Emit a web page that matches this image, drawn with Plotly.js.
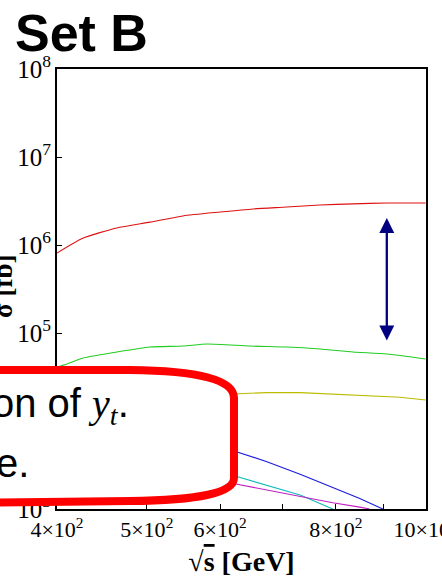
<!DOCTYPE html>
<html>
<head>
<meta charset="utf-8">
<script src="https://cdn.plot.ly/plotly-3.0.1.min.js"></script>
<style>
html,body{margin:0;padding:0;background:#fff;}
#chart{width:442px;height:581px;}
</style>
</head>
<body>
<div id="chart"></div>
<script>
// ---- data ----
const redX = [400, 427, 464, 504, 547, 600, 651, 708, 769, 835, 908, 1000];
const redY = [8.1e5, 1.2e6, 1.56e6, 1.82e6, 2.14e6, 2.37e6, 2.57e6, 2.70e6, 2.85e6, 2.93e6, 3.0e6, 3.0e6];
const greenX = [400, 410, 427, 464, 504, 547, 581, 646, 708, 769, 835, 908, 1000];
const greenY = [4.1e4, 4.44e4, 5.2e4, 6.08e4, 6.93e4, 7.11e4, 7.5e4, 7.11e4, 6.93e4, 6.58e4, 6.08e4, 5.77e4, 5.07e4];
const yellowX = [620, 674, 732, 794, 864, 938, 1000];
const yellowY = [2.03e4, 2.10e4, 2.10e4, 2.01e4, 1.94e4, 1.86e4, 1.73e4];
const blueX = [620, 674, 732, 794, 849, 899];
const blueY = [4.6e3, 3.45e3, 2.48e3, 1.77e3, 1.32e3, 1.0e3];
const cyanX = [620, 674, 732, 794];
const cyanY = [2.4e3, 1.87e3, 1.44e3, 1.0e3];
const magentaX = [620, 674, 732, 794, 849, 870];
const magentaY = [1.95e3, 1.64e3, 1.38e3, 1.18e3, 1.05e3, 1.0e3];

const xTickVals = [400, 500, 600, 700, 800, 900, 1000];
const xTickText = ['4×10<sup>2</sup>', '5×10<sup>2</sup>', '6×10<sup>2</sup>', '', '8×10<sup>2</sup>', '', '10×10<sup>2</sup>'];

// double arrow marker (sqrt(s) position, sigma top / bottom)
const arrowS = 908;
const arrowTop = 2.03e6;
const arrowBottom = 7.9e4;

// ---- layout helpers (pixel -> paper) ----
const W = 442, H = 581;
const M = {l: 57, r: 16, t: 69, b: 72};
const PW = W - M.l - M.r, PH = H - M.t - M.b;
function px(x) { return (x - M.l) / PW; }
function py(y) { return (H - M.b - y) / PH; }
function pt(x, y) { return px(x).toFixed(5) + ',' + py(y).toFixed(5); }

const boxPath = 'M' + pt(-30, 370) + ' L' + pt(130, 370) +
  ' Q' + pt(234, 371) + ' ' + pt(234, 398) +
  ' L' + pt(234, 478) +
  ' Q' + pt(234, 500) + ' ' + pt(130, 501) +
  ' L' + pt(-30, 503) + ' Z';

function tr(x, y, c, smooth) {
  const line = {color: c, width: 1.1};
  if (smooth) { line.shape = 'spline'; line.smoothing = 0.6; }
  return {x: x, y: y, type: 'scatter', mode: 'lines', line: line, hoverinfo: 'skip', showlegend: false};
}

const data = [
  tr(redX, redY, '#dd1111', true),
  tr(greenX, greenY, '#22cc22', true),
  tr(yellowX, yellowY, '#bbbb00'),
  tr(blueX, blueY, '#1a1ae0'),
  tr(cyanX, cyanY, '#11bbbb'),
  tr(magentaX, magentaY, '#c01cc0')
];

const serif = 'Liberation Serif, Times New Roman, serif';
const axCommon = {
  showline: true, linecolor: '#000', linewidth: 2, mirror: true,
  showgrid: false, zeroline: false,
  ticks: 'inside', ticklen: 5, tickwidth: 1, tickcolor: '#000',
  automargin: false, ticklabeloverflow: 'allow'
};

const layout = {
  width: W, height: H,
  margin: M,
  paper_bgcolor: '#fff', plot_bgcolor: '#fff',
  showlegend: false,
  title: {
    text: '<b>Set B</b>',
    x: 15 / W, xanchor: 'left', xref: 'container',
    y: 1 - 15 / H, yanchor: 'top', yref: 'container',
    font: {family: 'Liberation Sans, Arial, sans-serif', size: 52, color: '#000'}
  },
  xaxis: Object.assign({}, axCommon, {
    type: 'log',
    range: [Math.log10(400), Math.log10(1000) + 0.0004],
    tickmode: 'array', tickvals: xTickVals, ticktext: xTickText,
    tickfont: {family: serif, size: 22, color: '#000'},
    title: {
      text: '<b>√<span style="text-decoration:overline">s</span> [GeV]</b>',
      font: {family: serif, size: 28, color: '#000'},
      standoff: 10
    }
  }),
  yaxis: Object.assign({}, axCommon, {
    type: 'log',
    range: [3, 8],
    dtick: 1,
    exponentformat: 'power',
    tickfont: {family: serif, size: 20, color: '#000'}
  }),
  shapes: [
    {type: 'path', xref: 'paper', yref: 'paper', path: boxPath,
     line: {color: '#ff0000', width: 8}, fillcolor: '#ffffff', layer: 'above'}
  ],
  annotations: [
    {xref: 'paper', yref: 'paper', x: px(3), y: py(287), text: '<b>σ [fb]</b>',
     textangle: -90, showarrow: false, font: {family: serif, size: 27, color: '#000'},
     xanchor: 'center', yanchor: 'middle'},
    {x: Math.log10(arrowS), y: Math.log10(arrowTop), ax: Math.log10(arrowS), ay: Math.log10(arrowBottom),
     xref: 'x', yref: 'y', axref: 'x', ayref: 'y', text: '', showarrow: true,
     arrowside: 'end+start', arrowhead: 2, startarrowhead: 2, arrowsize: 1.3, startarrowsize: 1.3,
     arrowwidth: 2.3, arrowcolor: '#000080'},
    {xref: 'paper', yref: 'paper', x: px(131), y: py(406), xanchor: 'right', yanchor: 'middle',
     text: 'on of <i><span style="font-family:Liberation Serif">y<sub>t</sub></span></i>.', showarrow: false,
     font: {family: 'Liberation Sans, Arial, sans-serif', size: 40, color: '#000'}},
    {xref: 'paper', yref: 'paper', x: px(31), y: py(463), xanchor: 'right', yanchor: 'middle',
     text: 'e.', showarrow: false,
     font: {family: 'Liberation Sans, Arial, sans-serif', size: 40, color: '#000'}}
  ]
};

Plotly.newPlot('chart', data, layout, {staticPlot: true, displayModeBar: false});
</script>
</body>
</html>
